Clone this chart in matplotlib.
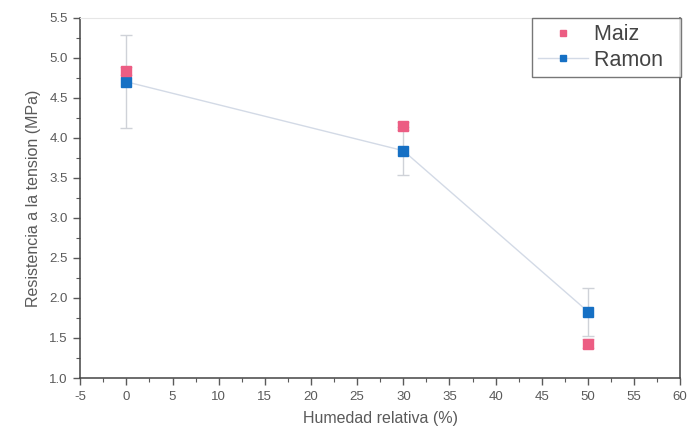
import matplotlib
matplotlib.use("Agg")
import matplotlib.pyplot as plt
from matplotlib.lines import Line2D
from matplotlib.ticker import MultipleLocator, FormatStrFormatter

plt.rcParams["font.family"] = ["Liberation Sans", "DejaVu Sans"]
plt.rcParams["axes.unicode_minus"] = False

# Tensile strength vs relative humidity
humidity = [0, 30, 50]
maiz = [4.83, 4.15, 1.43]
maiz_err = [0.05, 0.05, 0.06]
ramon = [4.70, 3.84, 1.83]
ramon_err = [0.58, 0.30, 0.30]
series_names = ["Maiz", "Ramon"]

PINK = "#ec5d83"
BLUE = "#1670c4"
GREY = "#5a5a5a"
LINE = "#d3dae6"

fig = plt.figure(figsize=(6.92, 4.34), dpi=100)
ax = fig.add_axes([0.116, 0.129, 0.867, 0.83])

ax.errorbar(humidity, ramon, yerr=ramon_err, color=LINE, lw=1.0,
            ecolor="#cfd2d8", elinewidth=1.0, capsize=4, capthick=1.0,
            marker="s", ms=6.5, mfc=BLUE, mec=BLUE, zorder=2)
ax.errorbar(humidity, maiz, yerr=maiz_err, color=PINK, ls="none",
            ecolor="#f3c6d2", elinewidth=1.0, capsize=4,
            marker="s", ms=6.5, mfc=PINK, mec=PINK, zorder=3)

ax.set_xlim(-5, 60)
ax.set_ylim(1.0, 5.5)
ax.xaxis.set_major_locator(MultipleLocator(5))
ax.xaxis.set_minor_locator(MultipleLocator(2.5))
ax.yaxis.set_major_locator(MultipleLocator(0.5))
ax.yaxis.set_minor_locator(MultipleLocator(0.25))
ax.yaxis.set_major_formatter(FormatStrFormatter("%.1f"))

ax.tick_params(which="both", direction="out", colors=GREY, labelsize=9.5,
               labelcolor=GREY)
ax.tick_params(which="major", length=5, width=1, pad=4)
ax.tick_params(which="minor", length=3, width=0.8)

for side in ["left", "bottom", "right"]:
    ax.spines[side].set_color("#444444")
    ax.spines[side].set_linewidth(1.1)
ax.spines["top"].set_color("#e6e6e6")

ax.set_xlabel("Humedad relativa (%)", fontsize=11.5, color=GREY, labelpad=6)
ax.set_ylabel("Resistencia a la tension (MPa)", fontsize=11.5, color=GREY,
              labelpad=6)

handles = [
    Line2D([], [], ls="none", marker="s", ms=5, mfc=PINK, mec=PINK),
    Line2D([], [], color=LINE, lw=1.0, marker="s", ms=5, mfc=BLUE, mec=BLUE),
]
# trailing spaces leave some room on the right of the legend box
leg = ax.legend(handles, [n + "  " for n in series_names], loc="upper right",
                bbox_to_anchor=(1.002, 1.0), fontsize=15.5, frameon=True,
                fancybox=False, edgecolor="#555555", handlelength=2.3,
                handletextpad=0.3, borderpad=0.3, labelspacing=0.2,
                borderaxespad=0.0)
leg.get_frame().set_linewidth(1.0)
for t in leg.get_texts():
    t.set_color("#444444")

fig.savefig("out.png", dpi=100, facecolor="white")
